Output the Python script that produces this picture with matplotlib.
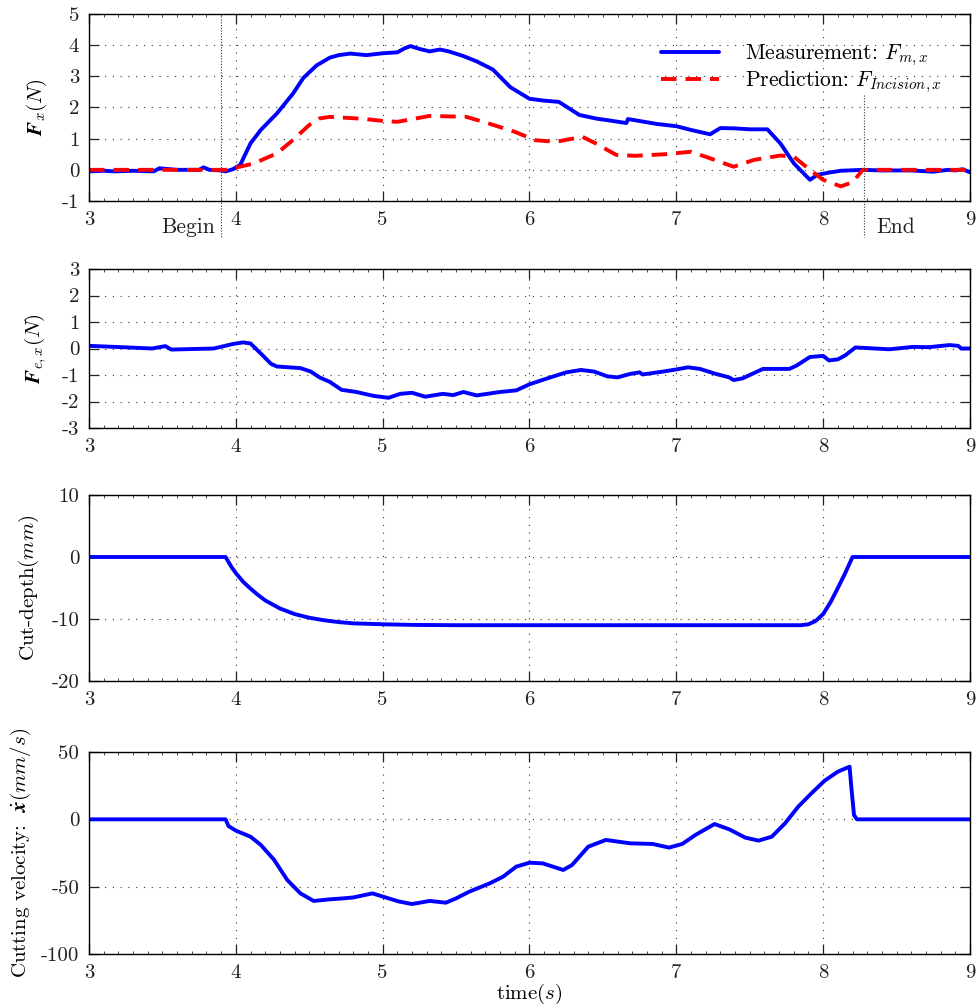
import matplotlib
matplotlib.use("Agg")
import matplotlib.pyplot as plt
from matplotlib.ticker import MultipleLocator

plt.rcParams["font.family"] = ["cmr10", "DejaVu Serif"]
plt.rcParams["mathtext.fontset"] = "cm"
plt.rcParams["axes.unicode_minus"] = False
plt.rcParams["axes.formatter.use_mathtext"] = True
plt.rcParams["lines.solid_joinstyle"] = "round"
plt.rcParams["lines.solid_capstyle"] = "round"

# ---- measured / predicted incision force along x ----
t_fm = [3.0, 3.1, 3.17, 3.3, 3.44, 3.48, 3.6, 3.75, 3.78, 3.82, 3.9, 3.93, 3.98,
        4.03, 4.1, 4.17, 4.28, 4.39, 4.46, 4.55, 4.64, 4.7, 4.78, 4.89, 5.0, 5.1,
        5.15, 5.19, 5.25, 5.32, 5.39, 5.45, 5.55, 5.64, 5.75, 5.87, 6.0, 6.1, 6.2,
        6.34, 6.46, 6.55, 6.66, 6.67, 6.87, 7.0, 7.1, 7.23, 7.3, 7.4, 7.5, 7.62,
        7.71, 7.8, 7.91, 7.96, 8.05, 8.12, 8.27, 8.4, 8.6, 8.75, 8.85, 8.9, 8.95, 9.0]
f_meas = [-0.05, -0.03, -0.05, -0.03, -0.05, 0.05, 0.0, 0.0, 0.08, 0.0, -0.02, -0.05, 0.02,
          0.16, 0.85, 1.28, 1.81, 2.45, 2.95, 3.35, 3.6, 3.68, 3.73, 3.68, 3.74, 3.77,
          3.9, 3.97, 3.88, 3.8, 3.86, 3.8, 3.65, 3.48, 3.22, 2.65, 2.28, 2.22, 2.18,
          1.76, 1.64, 1.58, 1.5, 1.63, 1.47, 1.4, 1.28, 1.14, 1.34, 1.33, 1.3, 1.3,
          0.84, 0.21, -0.32, -0.16, -0.08, -0.03, 0.0, -0.02, -0.02, -0.06, 0.0, -0.02, 0.02, -0.08]

t_fp = [3.0, 3.93, 3.98, 4.12, 4.28, 4.39, 4.5, 4.57, 4.64, 4.86, 5.0, 5.1, 5.32,
        5.57, 5.72, 5.9, 6.04, 6.18, 6.36, 6.45, 6.59, 6.72, 6.92, 7.1, 7.23, 7.39,
        7.53, 7.71, 7.8, 7.91, 8.0, 8.12, 8.2, 8.27, 9.0]
f_pred = [0.0, 0.0, 0.05, 0.2, 0.53, 0.96, 1.44, 1.65, 1.7, 1.64, 1.57, 1.54, 1.73,
          1.7, 1.49, 1.22, 0.95, 0.9, 1.06, 0.85, 0.48, 0.45, 0.5, 0.58, 0.37, 0.1,
          0.32, 0.46, 0.42, 0.0, -0.32, -0.53, -0.4, 0.0, 0.0]

# ---- force error along x ----
t_fe = [3.0, 3.18, 3.43, 3.52, 3.56, 3.85, 3.98, 4.05, 4.1, 4.17, 4.24, 4.28, 4.44,
        4.51, 4.57, 4.64, 4.72, 4.82, 4.94, 5.04, 5.12, 5.2, 5.29, 5.41, 5.48, 5.55,
        5.64, 5.8, 5.91, 6.0, 6.12, 6.25, 6.35, 6.44, 6.53, 6.6, 6.685, 6.75, 6.77,
        6.91, 7.0, 7.08, 7.16, 7.27, 7.36, 7.39, 7.45, 7.59, 7.77, 7.82, 7.91, 8.0,
        8.04, 8.1, 8.15, 8.22, 8.45, 8.61, 8.72, 8.86, 8.92, 8.94, 9.0]
f_err = [0.1, 0.06, 0.0, 0.09, -0.04, 0.0, 0.17, 0.23, 0.19, -0.19, -0.58, -0.68, -0.74,
         -0.87, -1.09, -1.26, -1.56, -1.64, -1.79, -1.86, -1.71, -1.67, -1.82, -1.71, -1.76, -1.64,
         -1.77, -1.64, -1.58, -1.35, -1.13, -0.9, -0.81, -0.87, -1.05, -1.09, -0.96, -0.9, -0.98,
         -0.87, -0.79, -0.71, -0.77, -0.96, -1.09, -1.19, -1.13, -0.77, -0.77, -0.64, -0.32, -0.28,
         -0.45, -0.41, -0.26, 0.04, -0.03, 0.06, 0.05, 0.13, 0.1, 0.0, 0.0]

# ---- cut depth ----
t_cd = [3.0, 3.93, 3.97, 4.0, 4.05, 4.1, 4.15, 4.2, 4.3, 4.4, 4.5, 4.6, 4.7, 4.8,
        5.0, 5.2, 5.5, 7.85, 7.9, 7.95, 8.0, 8.05, 8.1, 8.15, 8.2, 9.0]
cut_depth = [0.0, 0.0, -1.6, -2.6, -4.0, -5.1, -6.1, -7.0, -8.3, -9.2, -9.8, -10.2, -10.5, -10.7,
             -10.85, -10.95, -11.0, -11.0, -10.85, -10.3, -9.2, -7.3, -5.0, -2.6, 0.0, 0.0]

# ---- cutting velocity ----
t_v = [3.0, 3.93, 3.95, 4.0, 4.1, 4.17, 4.26, 4.35, 4.44, 4.53, 4.64, 4.73, 4.8,
       4.93, 5.11, 5.2, 5.32, 5.43, 5.5, 5.59, 5.73, 5.82, 5.91, 6.0, 6.09, 6.23,
       6.29, 6.4, 6.52, 6.685, 6.84, 6.95, 7.04, 7.13, 7.26, 7.36, 7.47, 7.56, 7.65,
       7.74, 7.83, 7.92, 8.01, 8.1, 8.18, 8.19, 8.21, 8.23, 9.0]
velocity = [0.0, 0.0, -5.0, -8.4, -12.9, -19.0, -30.0, -45.0, -55.0, -60.6, -59.4, -58.7, -58.0,
            -55.0, -61.0, -62.9, -60.6, -61.9, -58.7, -53.7, -47.5, -42.6, -35.1, -32.2, -32.7, -37.6,
            -33.9, -20.3, -15.3, -17.8, -18.3, -21.0, -18.3, -11.6, -3.5, -7.4, -13.6, -15.8, -12.9,
            -3.0, 9.4, 19.3, 28.7, 35.4, 39.1, 26.0, 3.2, 0.0, 0.0]

x_ticks = [3, 4, 5, 6, 7, 8, 9]
begin_t, end_t = 3.9, 8.28

W, H = 977, 1007
fig = plt.figure(figsize=(W / 100, H / 100), dpi=100)


def axes_px(left, top, right, bottom):
    return fig.add_axes([left / W, 1 - bottom / H, (right - left) / W, (bottom - top) / H])


ax1 = axes_px(89, 14, 970, 201)
ax2 = axes_px(89, 269, 970, 428)
ax3 = axes_px(89, 495, 970, 681)
ax4 = axes_px(89, 752, 970, 954)

BLUE = (0, 0, 1)
RED = (1, 0, 0)
LW = 2.8
TICK_FS = 15
LABEL_FS = 15


def style(ax, ylim, yticks, ylabel, label_x):
    ax.set_xlim(3, 9)
    ax.set_ylim(*ylim)
    ax.set_xticks(x_ticks)
    ax.set_xticklabels([str(v) for v in x_ticks])
    ax.xaxis.set_minor_locator(MultipleLocator(0.1))
    ax.set_yticks(yticks)
    ax.set_yticklabels([str(v) for v in yticks])
    ax.tick_params(which="major", direction="in", length=7, width=0.9,
                   top=True, right=True, labelsize=TICK_FS, pad=7, colors="#222222")
    ax.tick_params(axis="x", which="minor", direction="in", length=2, width=0.5,
                   top=True, bottom=True)
    ax.tick_params(axis="y", which="minor", left=False, right=False)
    ax.grid(True, which="major", color="#333333", linestyle=(0, (1, 6)), linewidth=0.8)
    for s in ax.spines.values():
        s.set_linewidth(1.0)
    ax.set_ylabel(ylabel, fontsize=LABEL_FS)
    ax.yaxis.set_label_coords(label_x, 0.5)


# Panel 1: force along x
ax1.plot(t_fm, f_meas, color=BLUE, lw=LW, label=r"Measurement: $F_{m,x}$")
ax1.plot(t_fp, f_pred, color=RED, lw=LW, dashes=(4, 2.3),
         label=r"Prediction: $F_{Incision,x}$")
style(ax1, (-1, 5), [-1, 0, 1, 2, 3, 4, 5], r"$\boldsymbol{F}_x(N)$", -0.045)
ax1.plot([begin_t, begin_t], [4.85, -2.15], color="#333333", lw=0.8,
         linestyle=(0, (1, 1.5)), clip_on=False)
ax1.plot([end_t, end_t], [2.4, -2.15], color="#333333", lw=0.8,
         linestyle=(0, (1, 1.5)), clip_on=False)
ax1.text(begin_t - 0.04, -1.85, "Begin", ha="right", va="center", fontsize=15.5, color="#222222")
ax1.text(end_t + 0.08, -1.85, "End", ha="left", va="center", fontsize=15.5, color="#222222")
ax1.legend(loc="upper right", frameon=False, fontsize=15.5, handlelength=2.7,
           handletextpad=1.2, labelspacing=0.05, bbox_to_anchor=(0.99, 0.95))

# Panel 2: force error
ax2.plot(t_fe, f_err, color=BLUE, lw=LW)
style(ax2, (-3, 3), [-3, -2, -1, 0, 1, 2, 3], r"$\boldsymbol{F}_{e,x}(N)$", -0.045)

# Panel 3: cut depth
ax3.plot(t_cd, cut_depth, color=BLUE, lw=LW)
style(ax3, (-20, 10), [-20, -10, 0, 10], r"Cut-depth$(mm)$", -0.054)

# Panel 4: cutting velocity
ax4.plot(t_v, velocity, color=BLUE, lw=LW)
style(ax4, (-100, 50), [-100, -50, 0, 50],
      r"Cutting velocity: $\ \dot{\boldsymbol{x}}(mm/s)$", -0.064)
ax4.set_xlabel(r"time$(s)$", fontsize=LABEL_FS, labelpad=0)

fig.savefig("out.png", dpi=100)
